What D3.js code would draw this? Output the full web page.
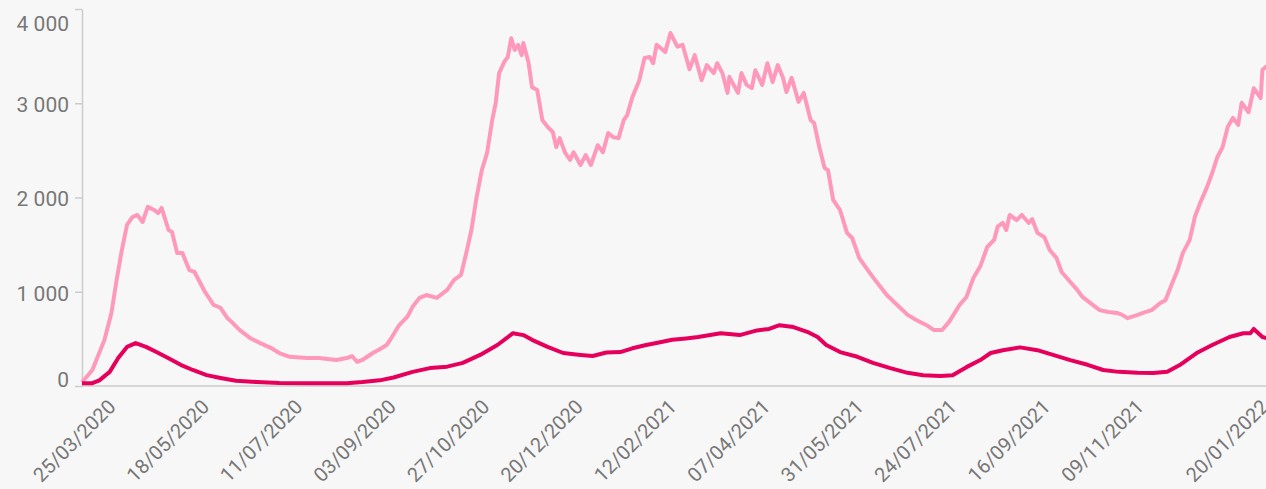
<!DOCTYPE html>
<html>
<head>
<meta charset="utf-8">
<script src="https://cdnjs.cloudflare.com/ajax/libs/d3/7.8.5/d3.min.js"></script>
<style>
  html, body { margin: 0; padding: 0; background: #f7f7f7; overflow: hidden; }
  svg { display: block; }
  .axis path, .axis line { stroke: #cccccc; stroke-width: 1.5; }
  .axis text { fill: #777777; font-size: 20px; font-family: Roboto, "Noto Sans", sans-serif; }
  .y.axis text { font-size: 21px; }
</style>
</head>
<body>
<div id="chart"></div>
<script>
// light series
var hospDates = [
  '2020-03-06','2020-03-12','2020-03-19','2020-03-23','2020-03-26','2020-03-29','2020-04-01','2020-04-04',
  '2020-04-07','2020-04-10','2020-04-13','2020-04-17','2020-04-19','2020-04-21','2020-04-25','2020-04-27',
  '2020-04-30','2020-05-03','2020-05-07','2020-05-10','2020-05-16','2020-05-21','2020-05-25','2020-05-29',
  '2020-06-01','2020-06-05','2020-06-11','2020-06-17','2020-06-23','2020-06-28','2020-07-04','2020-07-14',
  '2020-07-21','2020-07-31','2020-08-06','2020-08-09','2020-08-12','2020-08-15','2020-08-21','2020-08-25',
  '2020-08-29','2020-08-31','2020-09-05','2020-09-10','2020-09-13','2020-09-17','2020-09-21','2020-09-27',
  '2020-10-03','2020-10-07','2020-10-11','2020-10-14','2020-10-17','2020-10-20','2020-10-23','2020-10-26',
  '2020-10-29','2020-10-31','2020-11-02','2020-11-05','2020-11-07','2020-11-09','2020-11-11','2020-11-13',
  '2020-11-15','2020-11-16','2020-11-19','2020-11-21','2020-11-24','2020-11-27','2020-11-30','2020-12-03',
  '2020-12-05','2020-12-07','2020-12-10','2020-12-13','2020-12-15','2020-12-19','2020-12-22','2020-12-25',
  '2020-12-29','2021-01-01','2021-01-04','2021-01-07','2021-01-10','2021-01-13','2021-01-15','2021-01-18',
  '2021-01-22','2021-01-25','2021-01-28','2021-01-30','2021-02-01','2021-02-06','2021-02-09','2021-02-13',
  '2021-02-16','2021-02-18','2021-02-20','2021-02-23','2021-02-27','2021-03-02','2021-03-06','2021-03-08',
  '2021-03-11','2021-03-14','2021-03-15','2021-03-20','2021-03-22','2021-03-25','2021-03-28','2021-03-30',
  '2021-04-03','2021-04-06','2021-04-09','2021-04-12','2021-04-15','2021-04-17','2021-04-20','2021-04-24',
  '2021-04-27','2021-05-01','2021-05-03','2021-05-06','2021-05-09','2021-05-11','2021-05-14','2021-05-18',
  '2021-05-22','2021-05-25','2021-05-29','2021-06-03','2021-06-08','2021-06-14','2021-06-20','2021-06-26',
  '2021-07-01','2021-07-07','2021-07-11','2021-07-16','2021-07-20','2021-07-26','2021-07-30','2021-08-03',
  '2021-08-07','2021-08-11','2021-08-15','2021-08-17','2021-08-20','2021-08-22','2021-08-24','2021-08-28',
  '2021-08-31','2021-09-04','2021-09-06','2021-09-09','2021-09-13','2021-09-16','2021-09-20','2021-09-23',
  '2021-09-27','2021-10-02','2021-10-05','2021-10-11','2021-10-15','2021-10-20','2021-10-25','2021-10-28',
  '2021-10-31','2021-11-06','2021-11-09','2021-11-14','2021-11-19','2021-11-22','2021-11-25','2021-11-29',
  '2021-12-02','2021-12-06','2021-12-09','2021-12-12','2021-12-16','2021-12-19','2021-12-22','2021-12-25',
  '2021-12-28','2021-12-31','2022-01-03','2022-01-05','2022-01-09','2022-01-12','2022-01-16','2022-01-17',
  '2022-01-20'
];
var hospValues = [
  40, 170, 490, 775, 1125, 1440, 1710, 1790,
  1815, 1740, 1900, 1865, 1835, 1890, 1655, 1635,
  1410, 1410, 1230, 1210, 1000, 860, 830, 720,
  670, 595, 510, 455, 405, 350, 310, 297,
  297, 276, 297, 318, 255, 276, 350, 390,
  435, 488, 640, 735, 840, 935, 965, 935,
  1020, 1125, 1180, 1410, 1655, 2005, 2290, 2470,
  2820, 3000, 3320, 3440, 3490, 3690, 3565, 3620,
  3510, 3640, 3430, 3170, 3140, 2820, 2750, 2695,
  2535, 2630, 2480, 2400, 2480, 2345, 2450, 2345,
  2555, 2480, 2685, 2640, 2630, 2820, 2875, 3065,
  3245, 3480, 3490, 3425, 3620, 3545, 3745, 3600,
  3620, 3490, 3360, 3510, 3245, 3405, 3320, 3425,
  3320, 3110, 3280, 3110, 3320, 3195, 3160, 3350,
  3195, 3425, 3225, 3405, 3270, 3120, 3270, 3015,
  3110, 2820, 2790, 2535, 2315, 2290, 1975, 1865,
  1625, 1570, 1360, 1230, 1105, 965, 860, 755,
  700, 645, 595, 595, 680, 860, 945, 1145,
  1270, 1475, 1550, 1690, 1730, 1655, 1815, 1760,
  1815, 1730, 1770, 1625, 1580, 1445, 1360, 1210,
  1125, 1020, 945, 860, 805, 785, 775, 755,
  720, 755, 775, 805, 880, 910, 1050, 1230,
  1410, 1550, 1795, 1940, 2110, 2260, 2430, 2535,
  2750, 2845, 2770, 3005, 2905, 3160, 3055, 3355,
  3400
];

// dark series
var icuDates = [
  '2020-03-06','2020-03-12','2020-03-16','2020-03-22','2020-03-27','2020-04-01','2020-04-06','2020-04-12',
  '2020-04-18','2020-04-25','2020-05-02','2020-05-09','2020-05-17','2020-05-25','2020-06-03','2020-06-15',
  '2020-06-28','2020-07-17','2020-08-06','2020-08-15','2020-08-25','2020-09-02','2020-09-13','2020-09-23',
  '2020-10-03','2020-10-12','2020-10-22','2020-11-01','2020-11-10','2020-11-16','2020-11-21','2020-11-30',
  '2020-12-09','2020-12-19','2020-12-26','2021-01-03','2021-01-11','2021-01-18','2021-01-26','2021-02-03',
  '2021-02-10','2021-02-18','2021-02-25','2021-03-10','2021-03-21','2021-03-31','2021-04-07','2021-04-13',
  '2021-04-21','2021-04-29','2021-05-05','2021-05-10','2021-05-18','2021-05-28','2021-06-06','2021-06-16',
  '2021-06-26','2021-07-05','2021-07-15','2021-07-22','2021-07-30','2021-08-07','2021-08-13','2021-08-20',
  '2021-08-30','2021-09-09','2021-09-18','2021-09-28','2021-10-08','2021-10-17','2021-10-26','2021-11-06',
  '2021-11-15','2021-11-23','2021-11-30','2021-12-10','2021-12-19','2021-12-29','2022-01-06','2022-01-10',
  '2022-01-12','2022-01-17','2022-01-20'
];
var icuValues = [
  30, 30, 60, 150, 300, 415, 455, 415,
  360, 295, 225, 170, 115, 85, 55, 42,
  32, 30, 30, 42, 60, 90, 150, 190,
  205, 245, 330, 435, 560, 540, 490, 415,
  350, 330, 318, 355, 360, 400, 435, 465,
  490, 505, 520, 560, 540, 590, 605, 645,
  625, 575, 520, 435, 360, 310, 245, 190,
  140, 115, 105, 115, 200, 275, 350, 380,
  410, 380, 330, 275, 225, 170, 150, 140,
  138, 150, 220, 350, 435, 520, 560, 560,
  605, 520, 505
];

// every 54 days + the last day
var tickDates = [
  '2020-03-25','2020-05-18','2020-07-11','2020-09-03','2020-10-27','2020-12-20','2021-02-12',
  '2021-04-07','2021-05-31','2021-07-24','2021-09-16','2021-11-09','2022-01-20'
];
var yTicks = [0, 1000, 2000, 3000, 4000];

var width = 1270,
  height = 489;
var parseDate = d3.timeParse('%Y-%m-%d');
var formatDate = d3.timeFormat('%d/%m/%Y');
var fr = d3.formatLocale({ decimal: ',', thousands: ' ', grouping: [3], currency: ['', ' €'] });
var formatNum = fr.format(',');

var hosp = hospDates.map(function(d, i) {
  return { date: parseDate(d), value: hospValues[i] };
});
var icu = icuDates.map(function(d, i) {
  return { date: parseDate(d), value: icuValues[i] };
});

var x = d3
  .scaleTime()
  .domain([parseDate('2020-03-06'), parseDate('2022-01-20')])
  .range([82, 1267.6]);
var y = d3.scaleLinear().domain([0, 4000]).range([386, 9]);

var svg = d3
  .select('#chart')
  .append('svg')
  .attr('width', width)
  .attr('height', height);

// y axis
var yAxis = svg
  .append('g')
  .attr('class', 'axis y')
  .attr('transform', 'translate(82,0)')
  .call(
    d3
      .axisLeft(y)
      .tickValues(yTicks)
      .tickSize(7)
      .tickSizeOuter(0)
      .tickPadding(6)
      .tickFormat(formatNum)
  );
// first and last labels are kept inside the plot
yAxis
  .selectAll('text')
  .attr('dy', function(d) {
    if (d === 4000) return '1.0em';
    if (d === 0) return '0em';
    return '0.4em';
  });

// x axis line
svg
  .append('line')
  .attr('x1', 82)
  .attr('x2', width)
  .attr('y1', y(0))
  .attr('y2', y(0))
  .style('stroke', '#cccccc')
  .style('stroke-width', 1.5);

// rotated date labels
svg
  .append('g')
  .attr('class', 'axis x')
  .selectAll('text')
  .data(tickDates.map(parseDate))
  .enter()
  .append('text')
  .attr('text-anchor', 'end')
  .attr('transform', function(d) {
    return 'translate(' + (x(d) + 2) + ',408) rotate(-45)';
  })
  .text(formatDate);

var line = d3
  .line()
  .x(function(d) {
    return x(d.date);
  })
  .y(function(d) {
    return y(d.value);
  });

svg
  .append('path')
  .attr('d', line(hosp))
  .style('fill', 'none')
  .style('stroke', '#ff99bb')
  .style('stroke-width', 4)
  .style('stroke-linejoin', 'round');

svg
  .append('path')
  .attr('d', line(icu))
  .style('fill', 'none')
  .style('stroke', '#e6005c')
  .style('stroke-width', 4)
  .style('stroke-linejoin', 'round');
</script>
</body>
</html>
